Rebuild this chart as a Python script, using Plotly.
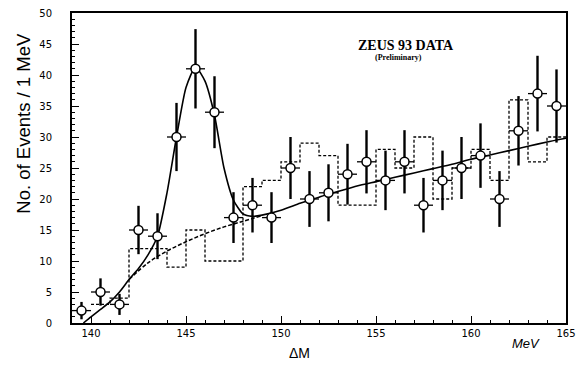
import plotly.graph_objects as go

# data points (Delta M bin centres, counts, errors)
dm = [139.5, 140.5, 141.5, 142.5, 143.5, 144.5, 145.5, 146.5, 147.5, 148.5, 149.5, 150.5, 151.5,
      152.5, 153.5, 154.5, 155.5, 156.5, 157.5, 158.5, 159.5, 160.5, 161.5, 162.5, 163.5, 164.5]
counts = [2, 5, 3, 15, 14, 30, 41, 34, 17, 19, 17, 25, 20, 21, 24, 26, 23, 26, 19, 23, 25, 27, 20, 31, 37, 35]
errs = [1.4, 2.2, 1.7, 3.9, 3.7, 5.5, 6.4, 5.8, 4.1, 4.4, 4.1, 5.0, 4.5, 4.6, 4.9, 5.1, 4.8, 5.1,
        4.4, 4.8, 5.0, 5.2, 4.5, 5.6, 6.1, 5.9]
half_bin = [0.5] * len(dm)

# dashed histogram (background sample): bin edges and contents
hist_edges = [140, 141, 142, 143, 144, 145, 146, 147, 148, 149, 150, 151, 152, 153, 154, 155, 156,
              157, 158, 159, 160, 161, 162, 163, 164, 165]
hist_vals = [3, 4, 12, 12, 9, 15, 10, 10, 22, 23, 26, 29, 27, 19, 19, 28, 25, 30, 20, 25, 28, 23, 36, 26, 30]

# fit curve (signal + background)
fit_x = [139.6, 140.0, 140.5, 141.0, 141.5, 142.0, 142.5, 143.0, 143.5, 144.0, 144.5, 145.0, 145.5,
         146.0, 146.5, 147.0, 147.5, 148.0, 148.5, 149.0, 150.0, 151.0, 152.0, 153.0, 154.0, 155.0,
         156.0, 157.0, 158.0, 159.0, 160.0, 161.0, 162.0, 163.0, 164.0, 165.0]
fit_y = [0.0, 1.0, 2.2, 3.4, 5.0, 7.0, 8.8, 11.0, 14.0, 21.0, 30.0, 38.0, 41.3,
         39.0, 33.5, 25.0, 19.8, 17.6, 17.2, 17.4, 18.2, 19.3, 20.3, 21.2, 22.1, 22.8,
         23.5, 24.2, 24.9, 25.6, 26.4, 27.1, 27.8, 28.5, 29.2, 29.8]

# background-only continuation under the peak (dashed)
bg_x = [142.0, 143.0, 144.0, 145.0, 146.0, 147.0, 148.0, 149.0]
bg_y = [7.0, 9.7, 11.6, 13.1, 14.4, 15.5, 16.4, 17.3]

fig = go.Figure()

fig.add_trace(go.Scatter(
    x=hist_edges, y=hist_vals + [hist_vals[-1]], mode="lines", line_shape="hv",
    line=dict(color="black", width=1.3, dash="3px,2px"), hoverinfo="skip"))

fig.add_trace(go.Scatter(
    x=bg_x, y=bg_y, mode="lines", line_shape="spline",
    line=dict(color="black", width=1.5, dash="4px,2px"), hoverinfo="skip"))

fig.add_trace(go.Scatter(
    x=fit_x, y=fit_y, mode="lines", line_shape="spline", line_smoothing=0.6,
    line=dict(color="black", width=1.6), hoverinfo="skip"))

fig.add_trace(go.Scatter(
    x=dm, y=counts, mode="markers",
    marker=dict(symbol="circle", size=9, color="white", line=dict(color="black", width=1.5)),
    error_y=dict(type="data", array=errs, color="black", thickness=2.4, width=0),
    error_x=dict(type="data", array=half_bin, color="black", thickness=1.3, width=0)))

fig.update_layout(
    width=587, height=365,
    margin=dict(l=72, r=21, t=7, b=42),
    paper_bgcolor="white", plot_bgcolor="white",
    showlegend=False,
    font=dict(family="DejaVu Sans", color="black"),
    xaxis=dict(range=[139, 165], tickmode="array", tickvals=[140, 145, 150, 155, 160, 165],
               ticks="inside", ticklen=7, tickwidth=1.2, tickcolor="black",
               minor=dict(dtick=1, tick0=139, ticks="inside", ticklen=3, tickcolor="black"),
               showline=True, mirror=True, linecolor="black", linewidth=2,
               showgrid=False, zeroline=False,
               tickfont=dict(family="DejaVu Sans", size=10, color="black")),
    yaxis=dict(range=[0, 50], tickmode="array", tickvals=[0, 5, 10, 15, 20, 25, 30, 35, 40, 45, 50],
               ticks="inside", ticklen=7, tickwidth=1.2, tickcolor="black",
               minor=dict(dtick=1, tick0=0, ticks="inside", ticklen=3, tickcolor="black"),
               showline=True, mirror=True, linecolor="black", linewidth=2,
               showgrid=False, zeroline=False, ticklabelstandoff=16,
               tickfont=dict(family="DejaVu Sans", size=10, color="black")),
    annotations=[
        dict(text="No. of Events / 1 MeV", xref="paper", yref="paper", x=-0.10, y=0.645,
             xanchor="center", yanchor="middle", textangle=-90, showarrow=False,
             font=dict(family="Liberation Sans", size=18.5, color="black")),
        dict(text="ΔM", xref="paper", yref="paper", x=0.46, y=-0.065, xanchor="center",
             yanchor="top", showarrow=False,
             font=dict(family="Liberation Sans", size=14, color="black")),
        dict(text="<i>MeV</i>", xref="paper", yref="paper", x=0.92, y=-0.035, xanchor="center",
             yanchor="top", showarrow=False,
             font=dict(family="Liberation Sans", size=13, color="black")),
        dict(text="<b>ZEUS 93 DATA</b>", xref="paper", yref="paper", x=0.574, y=0.895,
             xanchor="left", yanchor="middle", showarrow=False,
             font=dict(family="Liberation Serif", size=14, color="black")),
        dict(text="<b>(Preliminary)</b>", xref="paper", yref="paper", x=0.66, y=0.855,
             xanchor="center", yanchor="middle", showarrow=False,
             font=dict(family="Liberation Serif", size=8, color="black")),
    ],
)

fig.write_html("out.html")
